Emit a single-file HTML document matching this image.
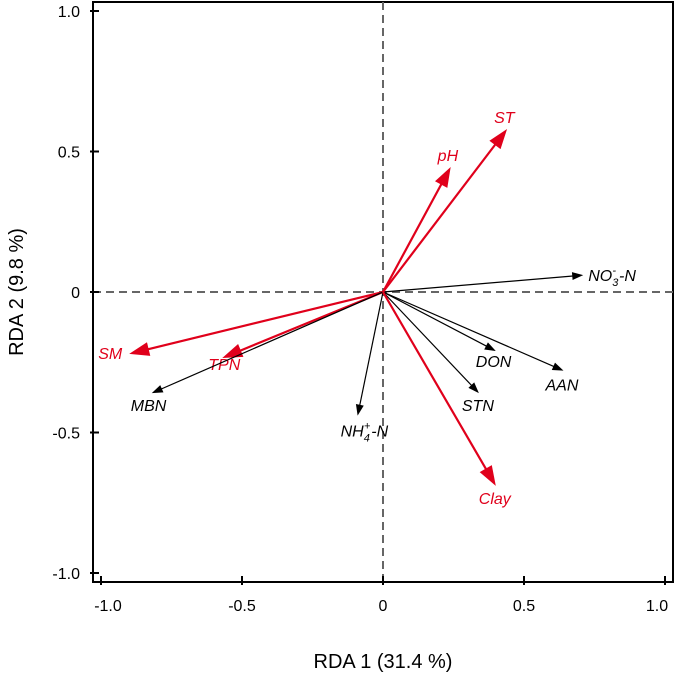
<!DOCTYPE html>
<html><head><meta charset="utf-8"><style>
html,body{margin:0;padding:0;background:#fff;}
svg{display:block;font-family:"Liberation Sans",Arial,sans-serif;}
</style></head><body>
<svg id="chart" width="675" height="678" viewBox="0 0 675 678" xmlns="http://www.w3.org/2000/svg">
<g id="plot"></g>
</svg>
<script>
const varNames = ["SM","TPN","MBN","NH4","STN","DON","AAN","NO3","Clay","pH","ST"];
const rda1 = [-0.90,-0.57,-0.82,-0.09,0.34,0.40,0.64,0.71,0.40,0.24,0.44];
const rda2 = [-0.22,-0.235,-0.36,-0.44,-0.36,-0.21,-0.28,0.06,-0.69,0.445,0.58];
const isEnv = [true,true,false,false,false,false,false,false,true,true,true];
const xTicks = [-1.0,-0.5,0,0.5,1.0];
const yTicks = [-1.0,-0.5,0,0.5,1.0];
const tickLabels = ["-1.0","-0.5","0","0.5","1.0"];

const labelDx = [-31,-14,-21,-17,-17,-20,-18,5,-17,-13,-13];
const labelDy = [5,12,18,21,18,16,20,6,18,-6,-6];
const xLabelShift = [7,0,0,0,-8];

const X = v => 383 + 282*v;
const Y = v => 292 - 281*v;
const NS = "http://www.w3.org/2000/svg";
const g = document.getElementById('plot');
function mk(tag, attrs){const e=document.createElementNS(NS,tag);for(const k in attrs)e.setAttribute(k,attrs[k]);g.appendChild(e);return e;}

let fr = mk('rect',{x:93,y:2,width:580,height:580,fill:'none',stroke:'#000','stroke-width':2});


let zx = mk('line',{x1:93,x2:673,y1:Y(0),y2:Y(0),stroke:'#666','stroke-width':2,'stroke-dasharray':'8,5'});


let zy = mk('line',{x1:X(0),x2:X(0),y1:2,y2:582,stroke:'#666','stroke-width':2,'stroke-dasharray':'8,5'});



xTicks.forEach((t,i)=>{
  let l=mk('line',{x1:X(t),x2:X(t),y1:585,y2:576,stroke:'#000','stroke-width':2});
  
  
  let tx=mk('text',{x:X(t)+xLabelShift[i],y:611,'font-size':16,'text-anchor':'middle',fill:'#000'});
  tx.textContent=tickLabels[i];
  
  
});
yTicks.forEach((t,i)=>{
  let l=mk('line',{x1:90,x2:99,y1:Y(t),y2:Y(t),stroke:'#000','stroke-width':2});
  
  
  let tx=mk('text',{x:80,y:Y(t)+6,'font-size':16,'text-anchor':'end',fill:'#000'});
  tx.textContent=tickLabels[i];
  
  
});
let xt=mk('text',{x:383,y:668,'font-size':20,'text-anchor':'middle',fill:'#000'});
xt.textContent='RDA 1 (31.4 %)';


let yt=mk('text',{x:0,y:0,'font-size':20,'text-anchor':'middle',fill:'#000',transform:'translate(23,292) rotate(-90)'});
yt.textContent='RDA 2 (9.8 %)';



function arrowHead(x2,y2,ang,len,wid,color){
  const c=Math.cos(ang), s=Math.sin(ang);
  const bx=x2-len*c, by=y2-len*s;
  const p=[[x2,y2],[bx-wid*s,by+wid*c],[bx+wid*s,by-wid*c]];
  return mk('polygon',{points:p.map(q=>q.join(',')).join(' '),fill:color});
}

varNames.forEach((n,i)=>{
  const x2=X(rda1[i]), y2=Y(rda2[i]);
  const color=isEnv[i]?'#e0001b':'#000';
  const ang=Math.atan2(y2-Y(0),x2-X(0));
  const len=isEnv[i]?20:11, wid=isEnv[i]?7:4;
  let ln=mk('line',{x1:X(0),y1:Y(0),x2:x2-len*0.8*Math.cos(ang),y2:y2-len*0.8*Math.sin(ang),stroke:color,'stroke-width':isEnv[i]?2.2:1.2});
  
  
  let hd=arrowHead(x2,y2,ang,len,wid,color);
  
  
  let tx=mk('text',{x:x2+labelDx[i],y:y2+labelDy[i],'font-size':16,'font-style':'italic',fill:color});
  if(n==='NH4'){
    tx.innerHTML='NH<tspan font-size="11" dy="5">4</tspan><tspan font-size="11" dy="-12" dx="-6">+</tspan><tspan dy="7" dx="1">-N</tspan>';
  } else if(n==='NO3'){
    tx.innerHTML='NO<tspan font-size="11" dy="5">3</tspan><tspan font-size="11" dy="-12" dx="-6">-</tspan><tspan dy="7" dx="3">-N</tspan>';
  } else tx.textContent=n;
  
  
});
</script>
</body></html>
